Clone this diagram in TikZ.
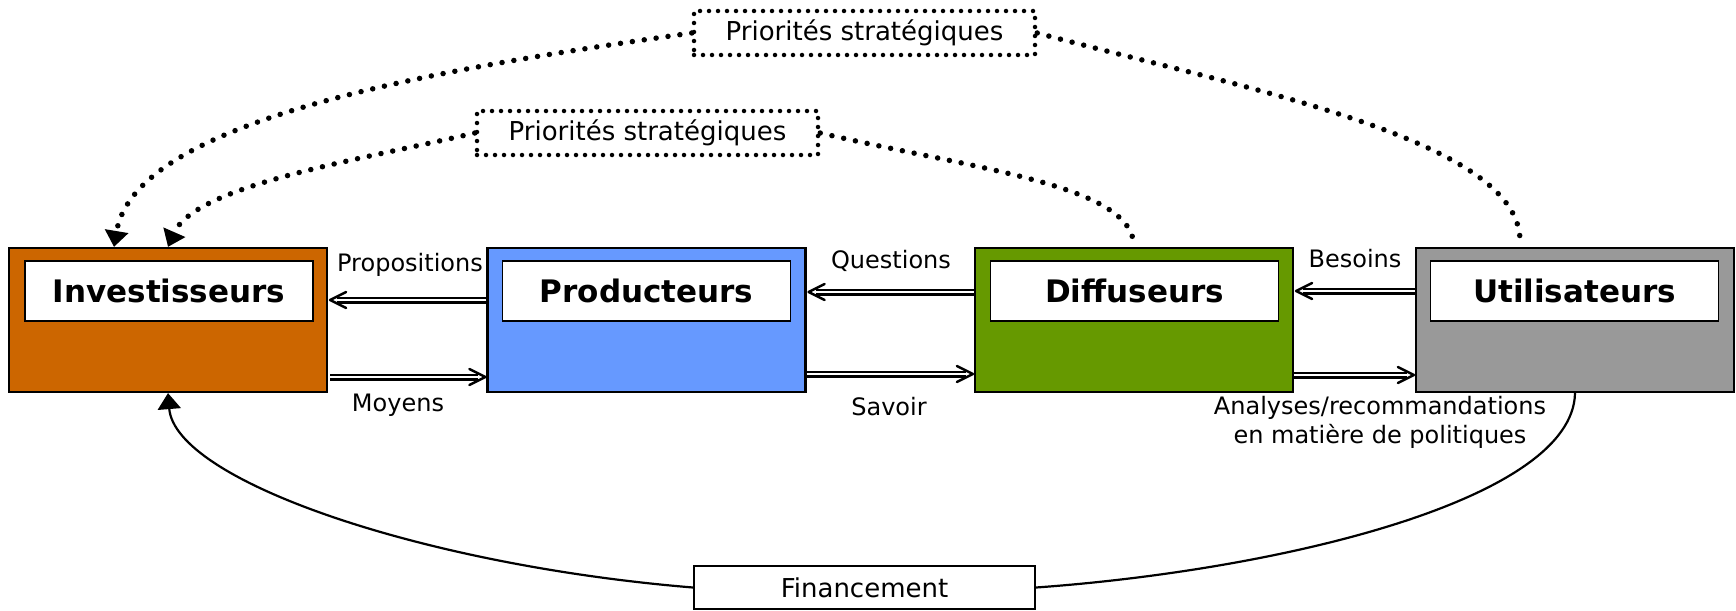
\documentclass[tikz,border=0pt]{standalone}
\usepackage{fontspec}
\setmainfont{DejaVu Sans}
\usetikzlibrary{arrows.meta,calc}
\definecolor{cinv}{HTML}{CC6600}
\definecolor{cprod}{HTML}{6699FF}
\definecolor{cdiff}{HTML}{669900}
\definecolor{cutil}{HTML}{999999}
\begin{document}
\begin{tikzpicture}[x=1pt,y=-1pt,
  outer/.style={draw, line width=2.2pt, inner sep=0pt, minimum width=318pt, minimum height=144pt},
  title/.style={draw, fill=white, line width=1.8pt, inner sep=0pt, minimum width=288pt, minimum height=60pt, font=\fontsize{31}{36}\selectfont\bfseries},
  lbl/.style={inner sep=0pt, font=\fontsize{24}{29}\selectfont},
  dbl/.style={double, double distance=2.6pt, line width=2.2pt, shorten >=7pt},
  dtip/.pic={\draw[line width=2.5pt, line cap=round, line join=round] (-16,8) -- (0,0) -- (-16,-8);},
  dotbox/.style={draw, line width=4.5pt, dash pattern=on 0pt off 9pt, line cap=round, inner sep=0pt, minimum width=341pt, minimum height=44pt, font=\fontsize{26}{30}\selectfont},
  dotcurve/.style={line width=5.5pt, dash pattern=on 0pt off 12pt, line cap=round},
  arrowhd/.style={-{Triangle[length=16pt,width=23pt]}},
  finbox/.style={draw, line width=2.2pt, inner sep=0pt, minimum width=341pt, minimum height=43pt, fill=white, font=\fontsize{26}{30}\selectfont}
]
\useasboundingbox (0,0) rectangle (1736,610);

% main boxes
\node[outer, fill=cinv]  (inv)  at (168,320) {};
\node[outer, fill=cprod] (prod) at (646.5,320) {};
\node[outer, fill=cdiff] (diff) at (1134,320) {};
\node[outer, fill=cutil] (util) at (1575,320) {};

\node[title] (invt)  at (169,291) {Investisseurs};
\node[title] (prodt) at (646.5,291) {Producteurs};
\node[title] (difft) at (1134.5,291) {Diffuseurs};
\node[title] (utilt) at (1574.5,291) {Utilisateurs};

% double arrows (Propositions, Moyens, Questions, Savoir, Besoins, Analyses)
\draw[dbl] ([yshift=20pt]prod.west) -- ([yshift=20pt,xshift=2pt]inv.east);
\pic[rotate=180] at ([yshift=20pt,xshift=2pt]inv.east) {dtip};
\draw[dbl] ([yshift=-57pt,xshift=2pt]inv.east) -- ([yshift=-57pt,xshift=-1pt]prod.west);
\pic at ([yshift=-57pt,xshift=-1pt]prod.west) {dtip};
\draw[dbl] ([yshift=28pt]diff.west) -- ([yshift=28pt,xshift=2pt]prod.east);
\pic[rotate=180] at ([yshift=28pt,xshift=2pt]prod.east) {dtip};
\draw[dbl] ([yshift=-54pt]prod.east) -- ([yshift=-54pt,xshift=-1pt]diff.west);
\pic at ([yshift=-54pt,xshift=-1pt]diff.west) {dtip};
\draw[dbl] ([yshift=29pt]util.west) -- ([yshift=29pt,xshift=2pt]diff.east);
\pic[rotate=180] at ([yshift=29pt,xshift=2pt]diff.east) {dtip};
\draw[dbl] ([yshift=-55pt]diff.east) -- ([yshift=-55pt,xshift=-1pt]util.west);
\pic at ([yshift=-55pt,xshift=-1pt]util.west) {dtip};

% arrow labels
\node[lbl] (lprop) at (410,265) {Propositions};
\node[lbl] (lmoy)  at (398,405) {Moyens};
\node[lbl] (lques) at (891,261) {Questions};
\node[lbl] (lsav)  at (889,407) {Savoir};
\node[lbl] (lbes)  at (1355,259) {Besoins};
\node[lbl, align=center] (lana) at (1380,422) {Analyses/recommandations\\en matière de politiques};

% strategic priorities
\node[dotbox] (p1) at (864.5,33) {Priorités stratégiques};
\node[dotbox] (p2) at (647.5,133) {Priorités stratégiques};

\draw[dotcurve, arrowhd] (p1.west) .. controls (430,70) and (135,120) .. ([xshift=-54pt]inv.north);
\draw[dotcurve, arrowhd] (p2.west) .. controls (360,160) and (195,185) .. (inv.north);
\draw[dotcurve] (p2.east) .. controls (980,170) and (1130,185) .. ([yshift=2pt]diff.north);
\draw[dotcurve] (p1.east) .. controls (1250,90) and (1520,140) .. ([xshift=-55pt,yshift=6pt]util.north);

% funding
\node[finbox] (fin) at (864.5,587.5) {Financement};
\draw[line width=2.2pt] (util.south) .. controls (1573,500) and (1280,570) .. (fin.east);
\draw[line width=2.2pt, arrowhd] (fin.west) .. controls (420,565) and (175,480) .. (inv.south);
\end{tikzpicture}
\end{document}
